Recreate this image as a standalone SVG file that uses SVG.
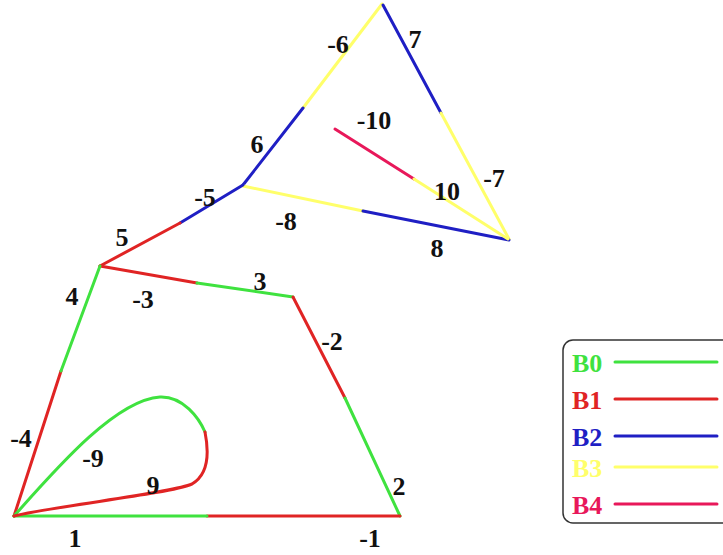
<svg xmlns="http://www.w3.org/2000/svg" width="723" height="555" viewBox="0 0 723 555">
<style>
.l{fill:none;stroke-width:3;stroke-linecap:round;stroke-linejoin:round}
.g{stroke:#3fe23f}.r{stroke:#e02424}.b{stroke:#1f1fc4}.y{stroke:#ffff6a}.p{stroke:#e8185a}
text{font-family:"Liberation Serif","Times New Roman",serif;font-weight:bold;font-size:26px;fill:#111;text-anchor:middle}
.lg{text-anchor:start}
</style>
<rect width="723" height="555" fill="#fff"/>
<g id="connectors">
<line class="l y" x1="382" y1="4" x2="303" y2="108"/>
<line class="l b" x1="303" y1="108" x2="243" y2="185"/>
<line class="l b" x1="383" y1="5" x2="441" y2="113"/>
<line class="l y" x1="441" y1="113" x2="509" y2="239"/>
<line class="l y" x1="243" y1="186" x2="363" y2="211"/>
<line class="l b" x1="363" y1="211" x2="509" y2="240"/>
<line class="l p" x1="335" y1="129" x2="414" y2="179"/>
<line class="l y" x1="414" y1="179" x2="508" y2="239"/>
<line class="l b" x1="243" y1="185" x2="180" y2="223"/>
<line class="l r" x1="180" y1="223" x2="100" y2="266"/>
<line class="l r" x1="100" y1="266" x2="197" y2="283"/>
<line class="l g" x1="197" y1="283" x2="293" y2="297"/>
<line class="l r" x1="293" y1="297" x2="345" y2="398"/>
<line class="l g" x1="345" y1="398" x2="400" y2="516"/>
<line class="l r" x1="400" y1="516" x2="207" y2="516"/>
<line class="l g" x1="207" y1="516" x2="14" y2="516"/>
<line class="l r" x1="14" y1="516" x2="61" y2="371"/>
<line class="l g" x1="61" y1="371" x2="100" y2="266"/>
<path class="l g" d="M14,516 C55,470 115,400 160,397 C183,396 199,418 205,432"/>
<path class="l r" d="M205,432 C209,452 209,474 192,484 C168,494 60,505 14,516"/>
</g>
<g id="labels">
<text x="338" y="53">-6</text>
<text x="415" y="48">7</text>
<text x="374" y="129">-10</text>
<text x="257" y="153">6</text>
<text x="494" y="187">-7</text>
<text x="447" y="200">10</text>
<text x="205" y="206">-5</text>
<text x="286" y="230">-8</text>
<text x="437" y="257">8</text>
<text x="122" y="246">5</text>
<text x="72" y="305">4</text>
<text x="143" y="308">-3</text>
<text x="260" y="290">3</text>
<text x="332" y="350">-2</text>
<text x="21" y="447">-4</text>
<text x="93" y="467">-9</text>
<text x="153" y="494">9</text>
<text x="399" y="495">2</text>
<text x="75" y="547">1</text>
<text x="370" y="547">-1</text>
</g>
<g id="legend">
<rect x="563" y="340" width="175" height="183" rx="10" fill="#fff" stroke="#333" stroke-width="1.5"/>
<g id="B0"><text class="lg" x="572" y="372" style="fill:#3fe23f">B0</text><line class="l g" x1="615" y1="362" x2="717" y2="362"/></g>
<g id="B1"><text class="lg" x="572" y="409" style="fill:#e02424">B1</text><line class="l r" x1="615" y1="399" x2="717" y2="399"/></g>
<g id="B2"><text class="lg" x="572" y="446" style="fill:#1f1fc4">B2</text><line class="l b" x1="615" y1="436" x2="717" y2="436"/></g>
<g id="B3"><text class="lg" x="572" y="477" style="fill:#ffff6a">B3</text><line class="l y" x1="615" y1="467" x2="717" y2="467"/></g>
<g id="B4"><text class="lg" x="572" y="514" style="fill:#e8185a">B4</text><line class="l p" x1="615" y1="504" x2="717" y2="504"/></g>
</g>
</svg>
